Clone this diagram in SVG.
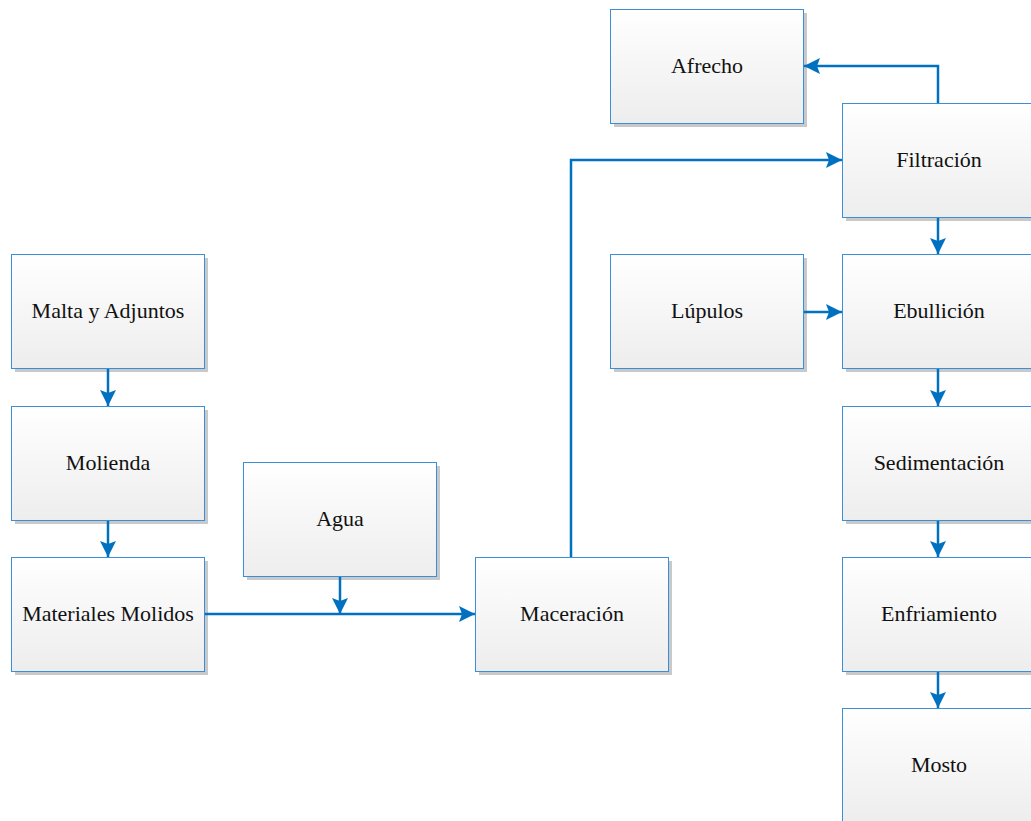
<svg xmlns="http://www.w3.org/2000/svg" width="1031" height="821" viewBox="0 0 1031 821">
<style>
.box{fill:url(#g);stroke:#3b8fd6;stroke-width:1}
.sh{fill:#c9c9c9}
.t{font-family:"Liberation Serif","Times New Roman",serif;font-size:22px;fill:#111;text-anchor:middle;dominant-baseline:central}
.c{fill:none;stroke:#0070c0;stroke-width:2.5;marker-end:url(#a)}
</style>
<defs>
<linearGradient id="g" x1="0" y1="0" x2="0" y2="1"><stop offset="0" stop-color="#ffffff"/><stop offset="1" stop-color="#ededed"/></linearGradient>
<marker id="a" viewBox="0 0 16 16" refX="16" refY="8" markerWidth="16" markerHeight="16" markerUnits="userSpaceOnUse" orient="auto"><path d="M0,0 L16,8 L0,16 L3,8 Z" fill="#0070c0"/></marker>
</defs>
<rect width="1031" height="821" fill="#fff"/>
<g id="malta"><rect class="sh" x="15" y="258" width="193" height="114"/><rect class="box" x="11.5" y="254.5" width="193" height="114"/><text class="t" x="108" y="310">Malta y Adjuntos</text></g>
<g id="molienda"><rect class="sh" x="15" y="410" width="193" height="114"/><rect class="box" x="11.5" y="406.5" width="193" height="114"/><text class="t" x="108" y="462">Molienda</text></g>
<g id="materiales"><rect class="sh" x="15" y="561" width="193" height="114"/><rect class="box" x="11.5" y="557.5" width="193" height="114"/><text class="t" x="108" y="613">Materiales Molidos</text></g>
<g id="agua"><rect class="sh" x="247" y="466" width="193" height="114"/><rect class="box" x="243.5" y="462.5" width="193" height="114"/><text class="t" x="340" y="518">Agua</text></g>
<g id="maceracion"><rect class="sh" x="479" y="561" width="193" height="114"/><rect class="box" x="475.5" y="557.5" width="193" height="114"/><text class="t" x="572" y="613">Maceración</text></g>
<g id="afrecho"><rect class="sh" x="614" y="13" width="193" height="114"/><rect class="box" x="610.5" y="9.5" width="193" height="114"/><text class="t" x="707" y="65">Afrecho</text></g>
<g id="lupulos"><rect class="sh" x="614" y="258" width="193" height="114"/><rect class="box" x="610.5" y="254.5" width="193" height="114"/><text class="t" x="707" y="310">Lúpulos</text></g>
<g id="filtracion"><rect class="sh" x="846" y="107" width="193" height="114"/><rect class="box" x="842.5" y="103.5" width="193" height="114"/><text class="t" x="939" y="159">Filtración</text></g>
<g id="ebullicion"><rect class="sh" x="846" y="258" width="193" height="114"/><rect class="box" x="842.5" y="254.5" width="193" height="114"/><text class="t" x="939" y="310">Ebullición</text></g>
<g id="sedimentacion"><rect class="sh" x="846" y="410" width="193" height="114"/><rect class="box" x="842.5" y="406.5" width="193" height="114"/><text class="t" x="939" y="462">Sedimentación</text></g>
<g id="enfriamiento"><rect class="sh" x="846" y="561" width="193" height="114"/><rect class="box" x="842.5" y="557.5" width="193" height="114"/><text class="t" x="939" y="613">Enfriamiento</text></g>
<g id="mosto"><rect class="sh" x="846" y="712" width="193" height="114"/><rect class="box" x="842.5" y="708.5" width="193" height="114"/><text class="t" x="939" y="764">Mosto</text></g>
<g id="connectors">
<path class="c" d="M108,369 V406"/>
<path class="c" d="M108,521 V557"/>
<path class="c" d="M205,614 H475"/>
<path class="c" d="M340,577 V614"/>
<path class="c" d="M571,557 V160 H842"/>
<path class="c" d="M938,103 V66 H804"/>
<path class="c" d="M804,312 H842"/>
<path class="c" d="M938,218 V254"/>
<path class="c" d="M938,369 V406"/>
<path class="c" d="M938,521 V557"/>
<path class="c" d="M938,672 V708"/>
</g>
</svg>
